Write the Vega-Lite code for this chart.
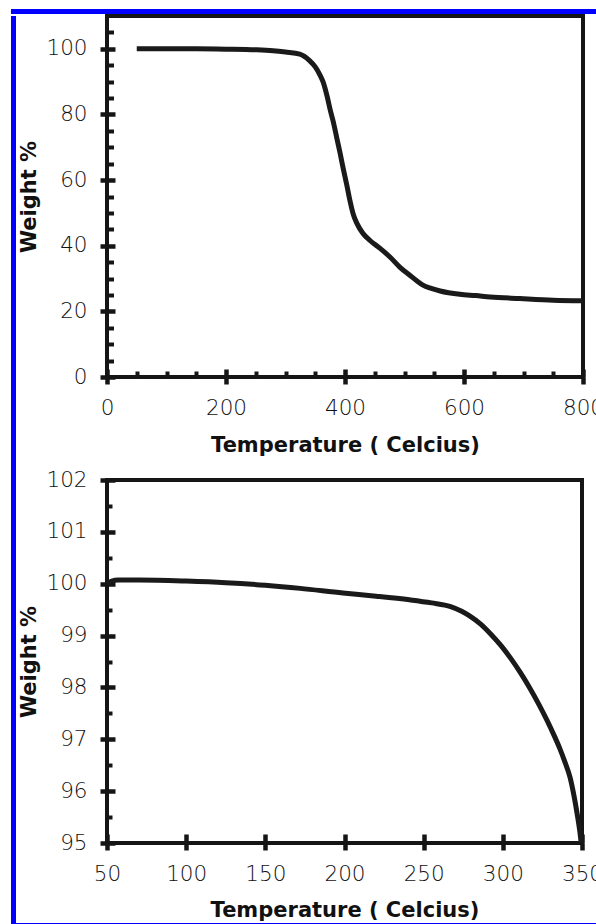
{
  "$schema": "https://vega.github.io/schema/vega-lite/v6.json",
  "padding": {"left": 11, "top": 9, "right": 0, "bottom": 0},
  "background": "white",
  "config": {
    "view": {"stroke": null},
    "axis": {
      "labelFont": "DejaVu Sans", "labelFontSize": 21.5, "labelFontWeight": 200, "labelColor": "#111111",
      "titleFont": "DejaVu Sans", "titleFontSize": 21, "titleFontWeight": "bold", "titleColor": "#111111",
      "domain": false, "tickColor": "#151515", "gridColor": "#151515", "gridOpacity": 1, "labelFlush": false
    }
  },
  "spacing": 0,
  "vconcat": [
    {"width": 585, "height": 5, "view": {"fill": "#0000ff", "stroke": null}, "data": {"values": []}, "mark": "point"},
    {
      "spacing": 0,
      "hconcat": [
        {"width": 5, "height": 907, "view": {"fill": "#0000ff", "stroke": null}, "data": {"values": []}, "mark": "point"},
        {
          "spacing": 9,
          "vconcat": [
            {
              "width": 476, "height": 361,
              "view": {"stroke": "#151515", "strokeWidth": 4},
              "data": {"values": [
                {"T": 50, "W": 100.0}, {"T": 100, "W": 100.0}, {"T": 150, "W": 100.0}, {"T": 200, "W": 99.9},
                {"T": 250, "W": 99.7}, {"T": 279, "W": 99.4}, {"T": 300, "W": 99.0}, {"T": 324, "W": 98.4},
                {"T": 340, "W": 96.5}, {"T": 350, "W": 94.5}, {"T": 358, "W": 92.0}, {"T": 363, "W": 90.0},
                {"T": 370, "W": 85.5}, {"T": 375, "W": 81.5}, {"T": 380, "W": 78.0}, {"T": 386, "W": 73.0},
                {"T": 392, "W": 68.0}, {"T": 397, "W": 63.5}, {"T": 403, "W": 58.5}, {"T": 408, "W": 54.0},
                {"T": 414, "W": 49.5}, {"T": 420, "W": 46.8}, {"T": 430, "W": 43.8}, {"T": 442, "W": 41.6},
                {"T": 459, "W": 39.2}, {"T": 476, "W": 36.5}, {"T": 492, "W": 33.5}, {"T": 509, "W": 31.0},
                {"T": 520, "W": 29.4}, {"T": 531, "W": 28.0}, {"T": 545, "W": 27.0}, {"T": 560, "W": 26.2},
                {"T": 593, "W": 25.2}, {"T": 620, "W": 24.8}, {"T": 644, "W": 24.4}, {"T": 694, "W": 23.9},
                {"T": 750, "W": 23.4}, {"T": 800, "W": 23.2}
              ]},
              "mark": {"type": "line", "color": "#1a1a1a", "strokeWidth": 5, "interpolate": "monotone"},
              "encoding": {
                "x": {
                  "field": "T", "type": "quantitative",
                  "scale": {"domain": [0, 800], "nice": false, "zero": false},
                  "axis": {
                    "title": "Temperature ( Celcius)",
                    "values": [0, 50, 100, 150, 200, 250, 300, 350, 400, 450, 500, 550, 600, 650, 700, 750, 800],
                    "labelExpr": "datum.value % 200 === 0 ? datum.label : ''",
                    "tickWidth": 4.5,
                    "tickSize": {"condition": {"test": "datum.value % 200 === 0", "value": 7}, "value": 0},
                    "grid": true,
                    "gridWidth": {"condition": {"test": "datum.value % 200 === 0", "value": 4.5}, "value": 4},
                    "gridDash": {"condition": {"test": "datum.value % 200 === 0", "value": [0, 353, 8, 1000]}, "value": [0, 355, 6, 1000]},
                    "labelPadding": 13, "titlePadding": 16
                  }
                },
                "y": {
                  "field": "W", "type": "quantitative",
                  "scale": {"domain": [0, 110], "nice": false, "zero": false},
                  "axis": {
                    "title": "Weight %",
                    "values": [0, 5, 10, 15, 20, 25, 30, 35, 40, 45, 50, 55, 60, 65, 70, 75, 80, 85, 90, 95, 100, 105],
                    "labelExpr": "datum.value % 20 === 0 ? datum.label : ''",
                    "tickWidth": 4.5,
                    "tickSize": {"condition": {"test": "datum.value % 20 === 0", "value": 7}, "value": 0},
                    "grid": true,
                    "gridWidth": {"condition": {"test": "datum.value % 20 === 0", "value": 4.5}, "value": 4},
                    "gridDash": {"condition": {"test": "datum.value % 20 === 0", "value": [8, 1000]}, "value": [6.5, 1000]},
                    "labelPadding": 13, "titlePadding": 6
                  }
                }
              }
            },
            {
              "width": 475, "height": 363,
              "view": {"stroke": "#151515", "strokeWidth": 4},
              "data": {"values": [
                {"T": 50, "W": 100.0}, {"T": 53, "W": 100.05}, {"T": 57, "W": 100.07}, {"T": 70, "W": 100.07},
                {"T": 100, "W": 100.05}, {"T": 125, "W": 100.02}, {"T": 150, "W": 99.97}, {"T": 172, "W": 99.91},
                {"T": 199, "W": 99.82}, {"T": 220, "W": 99.76}, {"T": 241, "W": 99.69}, {"T": 255, "W": 99.63},
                {"T": 267, "W": 99.56}, {"T": 274, "W": 99.47}, {"T": 279, "W": 99.38}, {"T": 286, "W": 99.22},
                {"T": 292, "W": 99.04}, {"T": 299, "W": 98.8}, {"T": 305, "W": 98.56}, {"T": 311, "W": 98.29},
                {"T": 317, "W": 97.99}, {"T": 323, "W": 97.66}, {"T": 328, "W": 97.36}, {"T": 332, "W": 97.1},
                {"T": 336, "W": 96.82}, {"T": 339, "W": 96.58}, {"T": 342.5, "W": 96.26}, {"T": 345, "W": 95.9},
                {"T": 347, "W": 95.55}, {"T": 348.5, "W": 95.25}, {"T": 349.5, "W": 95.0}
              ]},
              "mark": {"type": "line", "color": "#1a1a1a", "strokeWidth": 5, "interpolate": "monotone"},
              "encoding": {
                "x": {
                  "field": "T", "type": "quantitative",
                  "scale": {"domain": [50, 350], "nice": false, "zero": false},
                  "axis": {
                    "title": "Temperature ( Celcius)",
                    "values": [50, 100, 150, 200, 250, 300, 350],
                    "tickWidth": 4.5, "tickSize": 7,
                    "grid": true, "gridWidth": 4.5,
                    "gridDash": [0, 354, 9, 1000],
                    "labelPadding": 13, "titlePadding": 15
                  }
                },
                "y": {
                  "field": "W", "type": "quantitative",
                  "scale": {"domain": [95, 102], "nice": false, "zero": false},
                  "axis": {
                    "title": "Weight %",
                    "values": [95, 95.5, 96, 96.5, 97, 97.5, 98, 98.5, 99, 99.5, 100, 100.5, 101, 101.5, 102],
                    "labelExpr": "datum.value % 1 === 0 ? format(datum.value, 'd') : ''",
                    "tickWidth": 4.5,
                    "tickSize": {"condition": {"test": "datum.value % 1 === 0", "value": 7}, "value": 0},
                    "grid": true,
                    "gridWidth": {"condition": {"test": "datum.value % 1 === 0", "value": 4.5}, "value": 4},
                    "gridDash": {"condition": {"test": "datum.value % 1 === 0", "value": [8, 1000]}, "value": [5, 1000]},
                    "labelPadding": 13, "titlePadding": 6
                  }
                }
              }
            }
          ]
        }
      ]
    },
    {"width": 585, "height": 2, "view": {"fill": "#0000ff", "stroke": null}, "data": {"values": []}, "mark": "point"}
  ]
}
